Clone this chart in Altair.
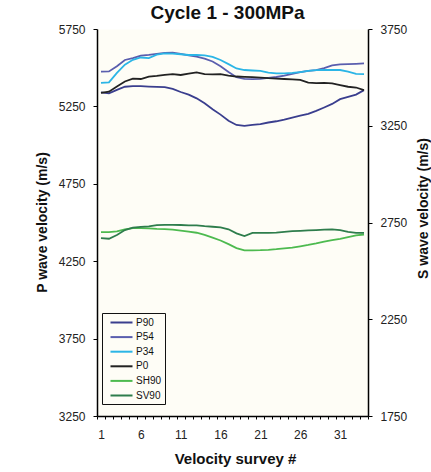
import altair as alt
import pandas as pd

survey = list(range(1, 35))

p90 = [5340, 5334, 5357, 5377, 5381, 5381, 5378, 5376, 5374, 5363, 5343, 5326, 5302, 5270, 5232, 5197, 5157,
       5130, 5124, 5130, 5136, 5146, 5154, 5164, 5178, 5190, 5202, 5221, 5243, 5266, 5297, 5312, 5326, 5355]
p54 = [5474, 5476, 5509, 5550, 5562, 5578, 5583, 5590, 5596, 5597, 5589, 5580, 5571, 5558, 5540, 5510, 5472,
       5439, 5428, 5426, 5428, 5434, 5440, 5449, 5460, 5471, 5479, 5484, 5497, 5515, 5521, 5523, 5525, 5528]
p34 = [5402, 5405, 5467, 5520, 5551, 5566, 5562, 5584, 5592, 5591, 5587, 5582, 5582, 5580, 5570, 5550, 5523,
       5495, 5485, 5482, 5479, 5468, 5463, 5463, 5466, 5472, 5479, 5484, 5485, 5485, 5485, 5475, 5460, 5459]
p0 = [5338, 5345, 5379, 5411, 5429, 5427, 5442, 5447, 5454, 5459, 5453, 5462, 5470, 5459, 5457, 5458, 5449,
      5443, 5441, 5439, 5436, 5432, 5430, 5427, 5425, 5421, 5403, 5401, 5402, 5399, 5388, 5377, 5372, 5355]
sh90 = [2700, 2700, 2704, 2715, 2721, 2721, 2720, 2717, 2716, 2713, 2708, 2703, 2697, 2686, 2672, 2657, 2638,
        2618, 2606, 2606, 2607, 2609, 2612, 2616, 2620, 2627, 2634, 2642, 2651, 2659, 2665, 2674, 2683, 2688]
sv90 = [2669, 2666, 2685, 2711, 2723, 2727, 2730, 2736, 2738, 2738, 2737, 2735, 2735, 2731, 2728, 2725, 2715,
        2694, 2680, 2696, 2696, 2696, 2698, 2702, 2705, 2707, 2709, 2711, 2713, 2714, 2711, 2702, 2696, 2696]

names = ["P90", "P54", "P34", "P0", "SH90", "SV90"]
colors = ["#3A3E8E", "#5A5EAE", "#2BB5E6", "#222222", "#4DBA4F", "#2E7D4C"]

p_series = {"P90": p90, "P54": p54, "P34": p34, "P0": p0}
s_series = {"SH90": sh90, "SV90": sv90}

p_df = pd.DataFrame([{"survey": s, "series": k, "v": v}
                     for k, vals in p_series.items() for s, v in zip(survey, vals)])
s_df = pd.DataFrame([{"survey": s, "series": k, "v": v}
                     for k, vals in s_series.items() for s, v in zip(survey, vals)])

FONT = "Liberation Sans"
W, H = 271, 387

x_ticks = [i + 0.5 for i in range(0, 35)]

x_enc = alt.X(
    "survey:Q",
    scale=alt.Scale(domain=[0.5, 34.5], nice=False, zero=False),
    axis=alt.Axis(
        values=x_ticks,
        labelExpr="(datum.value - 0.5) % 5 == 0 ? format(datum.value + 0.5, 'd') : ''",
        labelOffset=3.98,
        labelOverlap=False,
        labelFlush=False,
        labelFont=FONT, labelFontSize=12, labelColor="#222222",
        labelPadding=10,
        tickSize=3, tickColor="#000000", tickWidth=1,
        domainColor="#000000", domainWidth=1.5,
        grid=False,
        title="Velocity survey #",
        titleFont=FONT, titleFontSize=15, titleFontWeight="bold", titleColor="#111111",
        titleX=138, titleY=42, titleBaseline="middle", titleAlign="center",
    ),
)

color_enc = alt.Color(
    "series:N",
    scale=alt.Scale(domain=names, range=colors),
    sort=names,
    legend=alt.Legend(
        orient="none", legendX=5, legendY=284, direction="vertical",
        title=None,
        symbolType="M-2,0H2", symbolSize=121, symbolStrokeWidth=2, symbolOffset=10,
        labelFont=FONT, labelFontSize=10, labelColor="#111111", labelOffset=8,
        rowPadding=2.6,
        strokeColor="#111111", padding=3,
    ),
)

p_layer = alt.Chart(p_df).mark_line(strokeWidth=1.8).encode(
    x=x_enc,
    y=alt.Y(
        "v:Q",
        scale=alt.Scale(domain=[3250, 5750], nice=False, zero=False),
        axis=alt.Axis(
            values=[3250, 3750, 4250, 4750, 5250, 5750],
            format="d",
            orient="left",
            labelFont=FONT, labelFontSize=12, labelColor="#222222", labelPadding=8,
            tickSize=4, tickColor="#000000",
            domainColor="#000000", domainWidth=1.5,
            grid=False,
            title="P wave velocity (m/s)",
            titleFont=FONT, titleFontSize=14, titleFontWeight="bold", titleColor="#111111",
            titleAngle=270, titleX=-55, titleY=193, titleAlign="center", titleBaseline="middle",
        ),
    ),
    color=color_enc,
)

s_layer = alt.Chart(s_df).mark_line(strokeWidth=1.8).encode(
    x=x_enc,
    y=alt.Y(
        "v:Q",
        scale=alt.Scale(domain=[1750, 3750], nice=False, zero=False),
        axis=alt.Axis(
            values=[1750, 2250, 2750, 3250, 3750],
            format="d",
            orient="right",
            labelFont=FONT, labelFontSize=12, labelColor="#222222", labelPadding=8,
            tickSize=4, tickColor="#000000",
            domainColor="#000000", domainWidth=1.5,
            grid=False,
            title="S wave velocity (m/s)",
            titleFont=FONT, titleFontSize=14, titleFontWeight="bold", titleColor="#111111",
            titleAngle=270, titleX=55, titleY=179, titleAlign="center", titleBaseline="middle",
        ),
    ),
    color=color_enc,
)

chart = (
    alt.layer(p_layer, s_layer)
    .resolve_scale(y="independent")
    .properties(
        width=W, height=H,
        autosize=alt.AutoSizeParams(type="none"),
        padding={"left": 97, "top": 29, "right": 63, "bottom": 56},
        background="#ffffff",
        title=alt.TitleParams(
            "Cycle 1 - 300MPa", font=FONT, fontSize=19, fontWeight="bold", color="#111111",
            anchor="middle", frame="group", baseline="alphabetic", offset=6, dx=-5, dy=21,
        ),
    )
    .configure_view(stroke="transparent", fill="#FEFDF6")
)

chart.save("out.html", embed_options={"renderer": "svg", "actions": False})
